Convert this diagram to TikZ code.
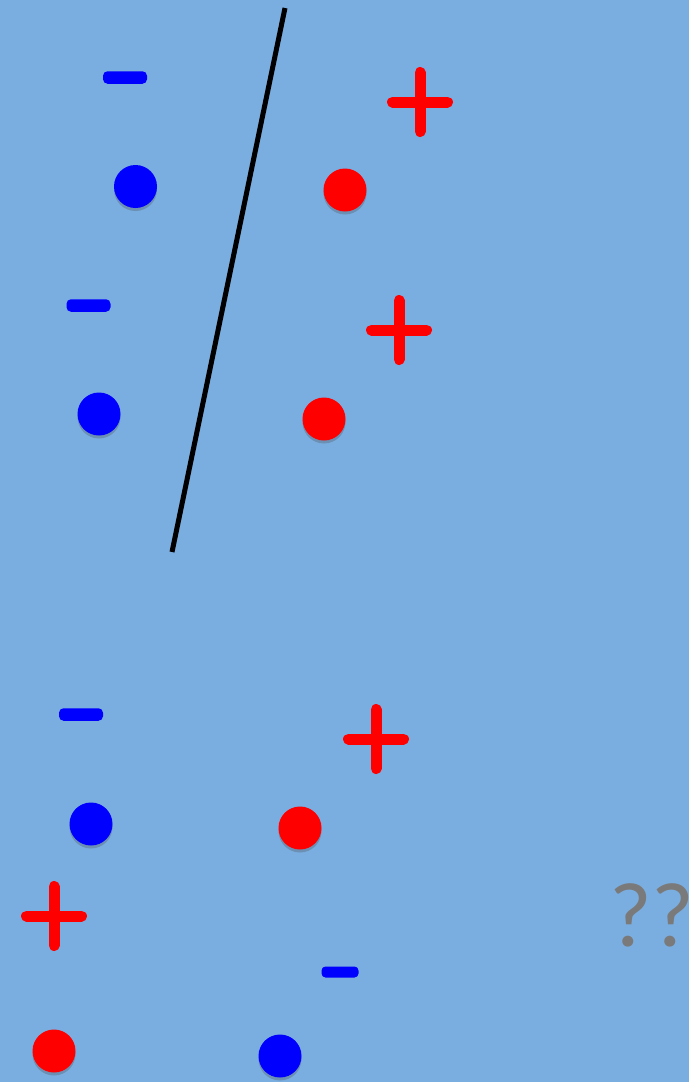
\documentclass[tikz,border=0pt]{standalone}
\usepackage{fontspec}
\newfontfamily\qfont{Carlito}
\usetikzlibrary{shadows}
\definecolor{bg}{HTML}{7AAEE0}
\definecolor{dotblue}{HTML}{0000FF}
\definecolor{dotred}{HTML}{FF0000}
\definecolor{qgray}{HTML}{7A7A7A}
\tikzset{
  dot/.style={circle, minimum size=43pt, inner sep=0pt, draw=none,
    drop shadow={shadow xshift=0pt, shadow yshift=-3pt, opacity=0.3, fill=black!70}},
  bdot/.style={dot, fill=dotblue},
  rdot/.style={dot, fill=dotred},
  minusbar/.style={rectangle, rounded corners=4.5pt, fill=dotblue, minimum width=44pt, minimum height=12.5pt, inner sep=0pt},
  plusstroke/.style={draw=dotred, line width=11pt, line cap=round},
  sepline/.style={draw=black, line width=5pt},
  pics/plussign/.style={code={
    \draw[plusstroke] (-27.5,0) -- (27.5,0);
    \draw[plusstroke] (0,-29.5) -- (0,29.5);
  }}
}
\begin{document}
\begin{tikzpicture}[x=1pt,y=-1pt]
\fill[bg] (0,0) rectangle (689,1082);
\useasboundingbox (0,0) rectangle (689,1082);
% separator
\coordinate (s1) at (285,8);
\coordinate (s2) at (172,552);
\draw[sepline] (s1) -- (s2);
% top group
\node[minusbar] (m1) at (125,77.5) {};
\node[bdot] (b1) at (135.5,186.5) {};
\pic (p1) at (420,102) {plussign};
\node[rdot] (r1) at (345,190) {};
\node[minusbar] (m2) at (88.5,305.5) {};
\node[bdot] (b2) at (99,414) {};
\pic (p2) at (399,330) {plussign};
\node[rdot] (r2) at (324,419) {};
% bottom group
\node[minusbar] (m3) at (81,714.5) {};
\pic (p3) at (376,739) {plussign};
\node[bdot] (b3) at (91,824) {};
\node[rdot] (r3) at (300,828) {};
\pic (p4) at (54,916) {plussign};
\node[anchor=base west, inner sep=0pt, text=qgray, font=\qfont\fontsize{92}{92}\selectfont] (q) at (609,946) {??};
\node[minusbar, minimum width=37pt, minimum height=11pt, rounded corners=4pt] (m4) at (340,972) {};
\node[rdot] (r4) at (54,1051) {};
\node[bdot] (b4) at (280,1056) {};
\end{tikzpicture}
\end{document}
